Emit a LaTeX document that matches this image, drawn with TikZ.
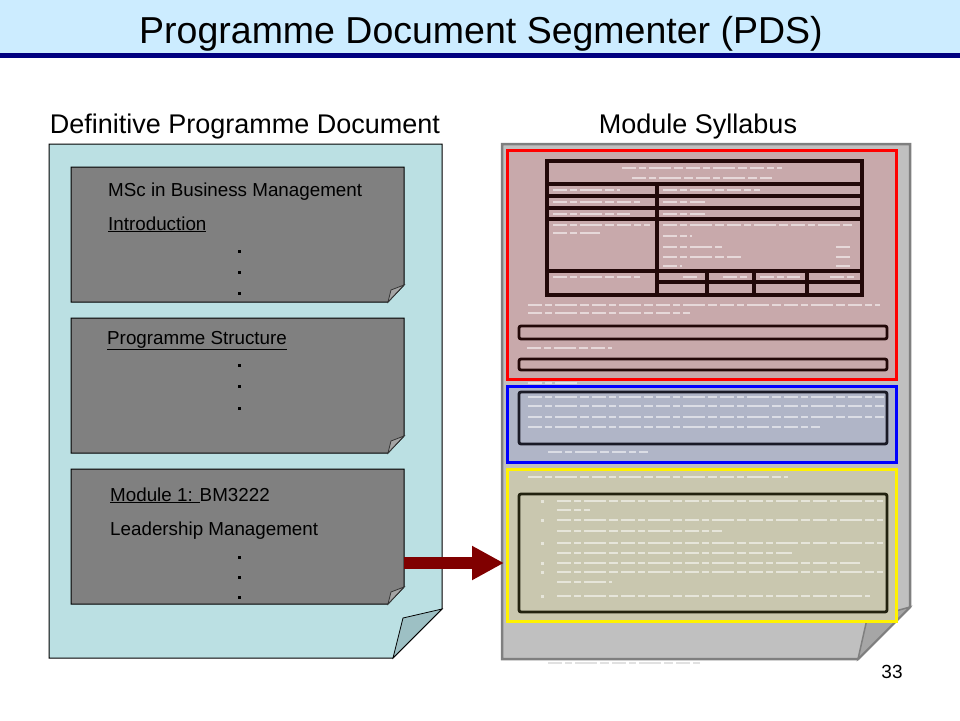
\documentclass[tikz,border=0pt]{standalone}
\usepackage{fontspec}
\setmainfont{Liberation Sans}
\usetikzlibrary{arrows.meta}

\definecolor{bandblue}{HTML}{CCECFF}
\definecolor{navyline}{HTML}{000080}
\definecolor{pagecyan}{HTML}{BBE0E3}
\definecolor{flapcyan}{HTML}{9DC0C4}
\definecolor{boxgray}{HTML}{808080}
\definecolor{boxflap}{HTML}{A4A4A4}
\definecolor{sylgray}{HTML}{C0C0C0}
\definecolor{sylborder}{HTML}{7F7F7F}
\definecolor{sylflap}{HTML}{A6A6A6}
\definecolor{redfill}{HTML}{C8A9AB}
\definecolor{bluefill}{HTML}{B0B5C7}
\definecolor{yellowfill}{HTML}{C9C7AF}
\definecolor{inkred}{HTML}{220808}
\definecolor{inkblue}{HTML}{1A1A26}
\definecolor{inkyellow}{HTML}{22220F}
\definecolor{arrowred}{HTML}{800000}

\tikzset{
  boxtext/.style={anchor=base west, inner sep=0pt, font=\fontsize{18.8}{21}\selectfont},
  headtext/.style={anchor=base, inner sep=0pt, font=\fontsize{27}{30}\selectfont},
  gbox/.style={fill=boxgray, draw=black, line width=1pt},
  gflap/.style={fill=boxflap, draw=black!80, line width=0.8pt},
  region/.style={line width=3pt},
  tabline/.style={draw=inkred, line width=3.2pt},
  blurtxt/.style={white, opacity=.55, line width=1.6pt,
    dash pattern=on 14pt off 3pt on 7pt off 3pt on 22pt off 3pt on 9pt off 3pt},
  bigarrow/.style={draw=arrowred, line width=12pt, -{Triangle[length=32pt,width=32pt]}}
}

\begin{document}
\begin{tikzpicture}[x=1pt,y=-1pt]
  \useasboundingbox (0,0) rectangle (960,720);

  % Title band
  \fill[bandblue] (0,0) rectangle (960,53);
  \fill[navyline] (0,53) rectangle (960,57.5);
  \node[anchor=base, inner sep=0pt, font=\fontsize{37.5}{42}\selectfont] (title) at (481,43)
    {Programme Document Segmenter (PDS)};

  % Headings of the two documents
  \node[headtext] (dpdhead) at (245,133) {Definitive Programme Document};
  \node[headtext] (sylhead) at (698,133) {Module Syllabus};

  % Left document with folded corner
  \draw[fill=pagecyan, line width=1pt] (49,144) -- (442,144) -- (442,609) -- (393,658) -- (49,658) -- cycle;
  \draw[fill=flapcyan, line width=0.8pt] (393,658) -- (403,618) -- (442,609) -- cycle;

  % Gray sections of the programme document
  \foreach \t in {167,318,469} {
    \draw[gbox] (71,\t) -- (404,\t) -- (404,\t+118) -- (388,\t+135) -- (71,\t+135) -- cycle;
    \draw[gflap] (388,\t+135) -- (391,\t+123) -- (404,\t+118) -- cycle;
  }

  \node[boxtext] (msc) at (108,196.5) {MSc in Business Management};
  \node[boxtext] (intro) at (108,230) {\underline{Introduction}};
  \node[boxtext] (struct) at (107,344) {\underline{Programme Structure}};
  \node[boxtext] (modnum) at (110,501) {\underline{Module 1: }BM3222};
  \node[boxtext] (modname) at (110,535) {Leadership Management};

  % Dots
  \foreach \t in {251,272,293,365,386,408,557,577,597}
    \fill (237.5,\t-1.5) rectangle ++(3,3);

  % Right document (module syllabus)
  \draw[fill=sylgray, draw=sylborder, line width=2.5pt] (502,144) -- (910,144) -- (910,607) -- (858,659) -- (502,659) -- cycle;
  \draw[fill=sylflap, draw=sylborder, line width=1.5pt] (858,659) -- (867,619) -- (910,607) -- cycle;

  % Segments
  \draw[region, draw=red, fill=redfill] (507,150) rectangle (896,379);
  \draw[region, draw=blue, fill=bluefill] (507,386) rectangle (896,462);
  \draw[region, draw=yellow, fill=yellowfill] (507,469) rectangle (896,621);

  % Table in the red segment
  \draw[tabline] (547,161) rectangle (862,295);
  \foreach \r in {184,196,208,219,271}
    \draw[tabline] (547,\r) -- (862,\r);
  \draw[tabline] (657,282) -- (862,282);
  \draw[tabline] (657,184) -- (657,295);
  \foreach \c in {707,754,807}
    \draw[tabline] (\c,271) -- (\c,295);
  \draw[tabline, line width=2.8pt, rounded corners=2pt] (519,326) rectangle (887,339);
  \draw[tabline, line width=2.8pt, rounded corners=2pt] (519,359) rectangle (887,370);

  % Blurred lines of the red segment
  \draw[blurtxt] (622,168) -- (782,168);
  \draw[blurtxt] (632,178) -- (772,178);
  \foreach \r/\a/\b in {190/620/760,202/640/705,214/630/705,225/650/855}
    \draw[blurtxt] (553,\r) -- (\a,\r) (663,\r) -- (\b,\r);
  \draw[blurtxt] (553,233) -- (600,233);
  \draw[blurtxt] (663,236) -- (692,236);
  \draw[blurtxt] (663,247) -- (722,247) (836,247) -- (850,247);
  \draw[blurtxt] (663,257) -- (742,257) (836,257) -- (850,257);
  \draw[blurtxt] (663,266) -- (682,266) (836,266) -- (850,266);
  \draw[blurtxt] (553,277) -- (640,277);
  \draw[blurtxt] (683,277) -- (700,277) (723,277) -- (750,277) (760,277) -- (800,277) (830,277) -- (855,277);
  \draw[blurtxt] (528,305) -- (880,305);
  \draw[blurtxt] (528,313) -- (690,313);
  \draw[blurtxt] (527,348) -- (612,348);
  \draw[blurtxt] (528,383) -- (580,383);

  % Blue segment
  \draw[draw=inkblue, line width=2.8pt, rounded corners=2pt] (519,392) rectangle (887,444);
  \foreach \r/\b in {397/884,406/884,417/884,427/820}
    \draw[blurtxt] (528,\r) -- (\b,\r);
  \draw[blurtxt] (548,452) -- (648,452);

  % Yellow segment
  \draw[blurtxt] (528,477) -- (788,477);
  \draw[draw=inkyellow, line width=2.8pt, rounded corners=2pt] (519,494) rectangle (887,612);
  \foreach \r/\b in {501/883,510/590,520/883,531/722,543/883,553/792,563/860,572/883,582/612,596/870}
    \draw[blurtxt] (557,\r) -- (\b,\r);
  \foreach \r in {501,520,543,563,572,596}
    \fill[white, opacity=.55] (541,\r-1.5) rectangle ++(3,3);

  % Footer of the syllabus page
  \draw[blurtxt, white!70!gray, opacity=.8] (548,663) -- (700,663);

  % Arrow from the module section to the syllabus
  \coordinate (modR) at (404,563);
  \coordinate (sylL) at (504,563);
  \draw[bigarrow] (modR) -- (sylL);

  % Slide number
  \node[anchor=base, inner sep=0pt, font=\fontsize{19}{21}\selectfont] (pagenum) at (892,678) {33};
\end{tikzpicture}
\end{document}
